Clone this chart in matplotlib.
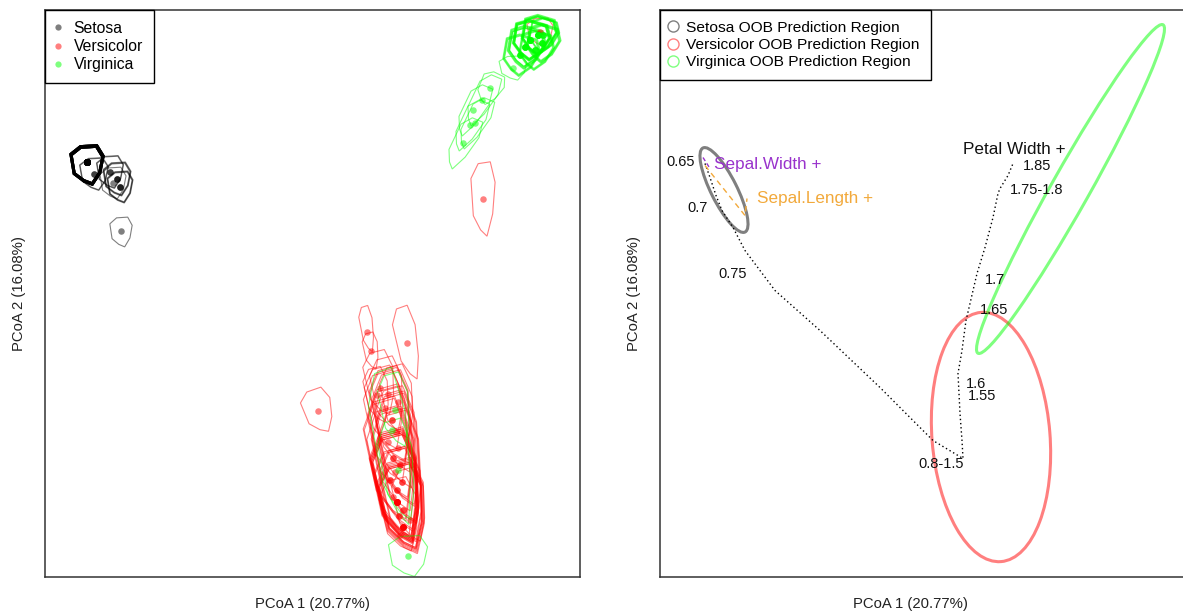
import numpy as np
import matplotlib
matplotlib.use("Agg")
import matplotlib.pyplot as plt
from matplotlib.patches import Polygon, Ellipse
from matplotlib.lines import Line2D

plt.rcParams['font.family'] = ['Liberation Sans', 'DejaVu Sans']

# ---------------- data: left panel (PCoA scores of OOB proximities) ----------------
species = ["Setosa", "Versicolor", "Virginica"]

setosa_x = [-0.2255, -0.2185, -0.2025, -0.1955, -0.1925, -0.1995, -0.1915]
setosa_y = [0.1315, 0.1195, 0.1215, 0.1145, 0.1065, 0.1105, 0.0625]
setosa_n = [38, 2, 2, 3, 3, 1, 1]
setosa_hw = [0.016, 0.015, 0.014, 0.014, 0.013, 0.014, 0.012]
setosa_hh = [0.019, 0.017, 0.017, 0.017, 0.016, 0.017, 0.016]
setosa_hdy = [-0.003, 0.0, 0.0, 0.0, 0.0, 0.0, -0.001]
setosa_ang = [0, 0, 0, 0, 0, 0, 0]

versicolor_x = [0.1705, 0.0055, 0.0945, 0.0545, 0.0585, 0.2275,
                0.0675, 0.0755, 0.0855, 0.0725, 0.0795, 0.0835, 0.0755, 0.0855,
                0.0805, 0.0875, 0.0825, 0.0775, 0.0895, 0.0845, 0.0805, 0.0845,
                0.0905, 0.0865, 0.0905, 0.0875, 0.0645, 0.0975]
versicolor_y = [0.0945, -0.1175, -0.0495, -0.0385, -0.0575, 0.2615,
                -0.0945, -0.1005, -0.1085, -0.1145, -0.1265, -0.1385, -0.1485, -0.1545,
                -0.1645, -0.1715, -0.1785, -0.1865, -0.1885, -0.1965, -0.2035, -0.2085,
                -0.2165, -0.2225, -0.2335, -0.2415, -0.1015, -0.2265]
versicolor_n = [1, 1, 1, 1, 1, 1,
                1, 1, 1, 1, 2, 1, 1, 1,
                2, 2, 1, 2, 2, 2, 1, 9,
                2, 2, 7, 1, 1, 1]
versicolor_hw = [0.013, 0.016, 0.012, 0.007, 0.008, 0.014,
                 0.016, 0.017, 0.017, 0.019, 0.020, 0.021, 0.022, 0.021,
                 0.022, 0.021, 0.022, 0.023, 0.021, 0.022, 0.023, 0.022,
                 0.021, 0.022, 0.022, 0.020, 0.013, 0.017]
versicolor_hh = [0.040, 0.024, 0.040, 0.025, 0.020, 0.015,
                 0.035, 0.040, 0.040, 0.045, 0.050, 0.055, 0.060, 0.055,
                 0.060, 0.060, 0.065, 0.065, 0.060, 0.065, 0.070, 0.055,
                 0.050, 0.050, 0.045, 0.040, 0.030, 0.040]
versicolor_hdy = [0.0, 0.0, 0.0, 0.003, 0.0, 0.0,
                  0.005, 0.0, 0.0, 0.0, 0.005, 0.010, 0.015, 0.010,
                  0.015, 0.015, 0.020, 0.020, 0.015, 0.020, 0.025, 0.015,
                  0.015, 0.020, 0.020, 0.020, 0.0, 0.015]
versicolor_ang = [0, 15, 10, 8, 8, 0] + [8] * 22

virginica_x = [0.2175, 0.2255, 0.2125, 0.2295, 0.2075, 0.2225, 0.2305, 0.2005,
               0.1695, 0.1605, 0.1575, 0.1625, 0.1505, 0.1775,
               0.0955, 0.0795, 0.0855, 0.0825]
virginica_y = [0.2535, 0.2585, 0.2465, 0.2505, 0.2385, 0.2435, 0.2585, 0.2255,
               0.1935, 0.1835, 0.1685, 0.1705, 0.1505, 0.2055,
               -0.2625, -0.1365, -0.1765, -0.1165]
virginica_n = [9, 8, 6, 5, 4, 4, 3, 1,
               1, 1, 1, 1, 1, 1,
               1, 1, 1, 1]
virginica_hw = [0.018, 0.017, 0.018, 0.016, 0.018, 0.017, 0.015, 0.015,
                0.012, 0.012, 0.012, 0.012, 0.012, 0.013,
                0.021, 0.019, 0.018, 0.016]
virginica_hh = [0.019, 0.019, 0.020, 0.018, 0.020, 0.019, 0.017, 0.013,
                0.030, 0.030, 0.030, 0.030, 0.030, 0.018,
                0.022, 0.085, 0.055, 0.040]
virginica_hdy = [0.0] * 14 + [0.0, -0.017, 0.0, 0.0]
virginica_ang = [-20] * 7 + [0] + [-30] * 6 + [0, 8, 8, 8]

# ---------------- data: right panel ----------------
region_labels = ["Setosa OOB Prediction Region", "Versicolor OOB Prediction Region",
                 "Virginica OOB Prediction Region"]
ell_cx = [-0.2035, 0.0635, 0.143]
ell_cy = [0.1035, -0.1435, 0.1045]
ell_w = [0.094, 0.118, 0.377]
ell_h = [0.026, 0.250, 0.038]
ell_ang = [-63.4, 4.6, 60.6]

petal_path_x = [-0.2225, -0.2175, -0.2115, -0.2055, -0.1945, -0.1825, -0.1705, -0.1525,
                -0.1075, -0.0475, 0.0055, 0.0355, 0.0345, 0.0325, 0.0305, 0.0345,
                0.0385, 0.0425, 0.0495, 0.0575, 0.0655, 0.0705, 0.0725, 0.0805, 0.0855]
petal_path_y = [0.130, 0.116, 0.098, 0.083, 0.066, 0.043, 0.027, 0.003,
                -0.037, -0.094, -0.147, -0.165, -0.147, -0.120, -0.080, -0.057,
                -0.027, -0.010, 0.020, 0.046, 0.076, 0.100, 0.105, 0.118, 0.130]
petal_labels = ["0.65", "0.7", "0.75", "0.8-1.5", "1.55", "1.6", "1.65", "1.7", "1.75-1.8", "1.85"]
petal_lab_x = [-0.2465, -0.2295, -0.1945, 0.0135, 0.0545, 0.0485, 0.0665, 0.0675, 0.1095, 0.1095]
petal_lab_y = [0.131, 0.086, 0.020, -0.171, -0.103, -0.090, -0.016, 0.014, 0.103, 0.127]

sepal_width_x = [-0.2245, -0.2175]
sepal_width_y = [0.136, 0.125]
sepal_length_x = [-0.2225, -0.1825, -0.1805]
sepal_length_y = [0.128, 0.078, 0.095]

var_names = ["Petal Width +", "Sepal.Width +", "Sepal.Length +"]
var_x = [0.0865, -0.1595, -0.1125]
var_y = [0.144, 0.129, 0.095]

xlab = "PCoA 1 (20.77%)"
ylab = "PCoA 2 (16.08%)"

# ---------------- styles ----------------
colors = ["black", "red", "#00ff00"]
HULL_TEMPLATE = np.array([(-1, 0.55), (-0.4, 0.95), (0.6, 1), (1, 0.45),
                          (0.8, -0.4), (0.33, -1), (-0.2, -0.83), (-0.8, -0.45)])

W, H = 1183, 614
fig = plt.figure(figsize=(W / 100, H / 100), dpi=100)
axL = fig.add_axes([45 / W, (H - 577) / H, 535 / W, 567 / H])
axR = fig.add_axes([660 / W, (H - 577) / H, 535 / W, 567 / H])

for ax in (axL, axR):
    ax.set_xlim(-0.2675, 0.2675)
    ax.set_ylim(-0.2835, 0.2835)
    ax.set_xticks([])
    ax.set_yticks([])
    for s in ax.spines.values():
        s.set_color("#333333")
        s.set_linewidth(1.1)
    ax.set_xlabel(xlab, fontsize=10.7, color="#222222")
    ax.set_ylabel(ylab, fontsize=10.7, color="#222222")
axL.xaxis.set_label_coords(0.5, -0.036)
axL.yaxis.set_label_coords(-0.036, 0.5)
axR.xaxis.set_label_coords(0.469, -0.036)
axR.yaxis.set_label_coords(-0.036, 0.5)


def draw_hull(ax, cx, cy, hw, hh, ang, color, k):
    s = 1 + 0.035 * ((k % 5) - 2)
    pts = HULL_TEMPLATE * np.array([hw * s, hh * s])
    t = np.deg2rad(ang)
    R = np.array([[np.cos(t), -np.sin(t)], [np.sin(t), np.cos(t)]])
    pts = pts @ R.T + np.array([cx, cy])
    ax.add_patch(Polygon(pts, closed=True, fill=False, edgecolor=color,
                         alpha=0.5, lw=0.8))


groups = [
    (setosa_x, setosa_y, setosa_n, setosa_hw, setosa_hh, setosa_hdy, setosa_ang),
    (versicolor_x, versicolor_y, versicolor_n, versicolor_hw, versicolor_hh, versicolor_hdy, versicolor_ang),
    (virginica_x, virginica_y, virginica_n, virginica_hw, virginica_hh, virginica_hdy, virginica_ang),
]
for (xs, ys, ns, hws, hhs, hdys, angs), col in zip(groups, colors):
    for x, y, n, hw, hh, dy, a in zip(xs, ys, ns, hws, hhs, hdys, angs):
        for k in range(n):
            draw_hull(axL, x, y + dy, hw, hh, a, col, k)
    axL.scatter(np.repeat(xs, ns), np.repeat(ys, ns), s=22, color=col, alpha=0.5,
                linewidths=0, zorder=3)

handlesL = [Line2D([], [], ls="none", marker="o", ms=4.5, color=c, alpha=0.5, mew=0)
            for c in colors]
legL = axL.legend(handlesL, species, loc="upper left", bbox_to_anchor=(0, 1),
                  borderaxespad=0, fancybox=False, edgecolor="black", framealpha=1,
                  fontsize=11.3, handlelength=0.3, handletextpad=0.83, borderpad=0.7,
                  labelspacing=0.2)
legL.get_frame().set_linewidth(1.0)

# ---------------- right panel ----------------
for cx, cy, w, h, a, col in zip(ell_cx, ell_cy, ell_w, ell_h, ell_ang, colors):
    axR.add_patch(Ellipse((cx, cy), w, h, angle=a, fill=False, edgecolor=col,
                          alpha=0.5, lw=2.2))

axR.plot(petal_path_x, petal_path_y, color="black", lw=1.0, ls=(0, (1, 2)))
axR.plot(sepal_width_x, sepal_width_y, color="#9932CC", lw=1.0, ls=(0, (3, 2)))
axR.plot(sepal_length_x, sepal_length_y, color="#F2A93B", lw=1.0, ls=(0, (4, 3)))
for t, x, y in zip(petal_labels, petal_lab_x, petal_lab_y):
    axR.text(x, y, t, ha="center", va="center", fontsize=10.5, color="#111111")
for t, x, y, c in zip(var_names, var_x, var_y, ["#111111", "#9932CC", "#F2A93B"]):
    axR.text(x, y, t, ha="center", va="center", fontsize=12.3, color=c)

handlesR = [Line2D([], [], ls="none", marker="o", ms=8, mfc="none", mec=c, alpha=0.5,
                   mew=1.0) for c in colors]
legR = axR.legend(handlesR, region_labels, loc="upper left", bbox_to_anchor=(0, 1),
                  borderaxespad=0, fancybox=False, edgecolor="black", framealpha=1,
                  fontsize=11.15, handlelength=0.3, handletextpad=0.7, borderpad=0.7,
                  labelspacing=0.2)
legR.get_frame().set_linewidth(1.0)

fig.savefig("out.png", dpi=100)
